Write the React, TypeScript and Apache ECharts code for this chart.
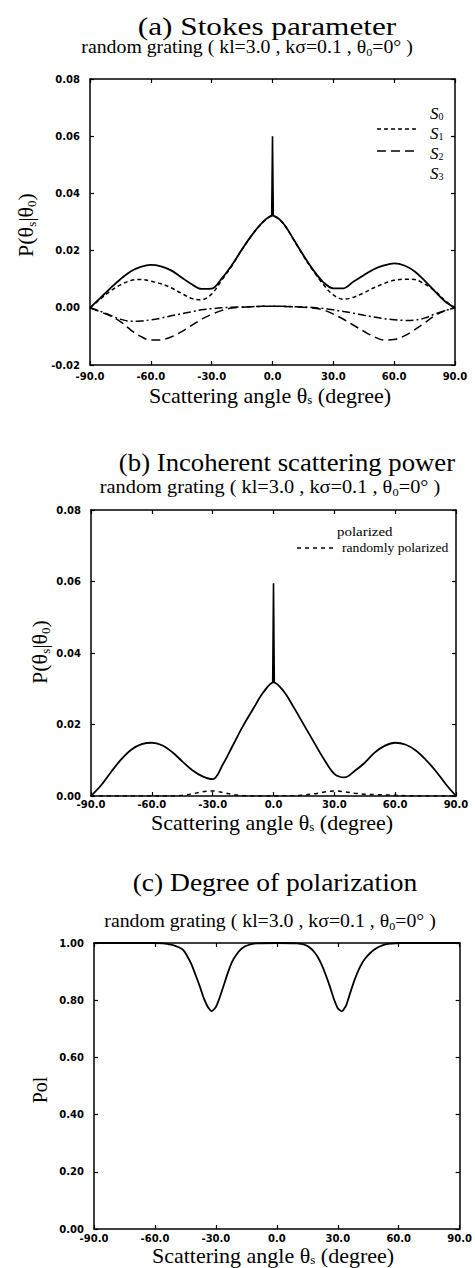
import React, { useEffect, useRef } from "react";
import * as echarts from "echarts";

// ---------- data ----------
const anglesA = [-90, -85, -80, -75, -70, -65, -60, -55, -50, -45, -40, -35, -30, -25, -20, -15, -10, -5, 0, 5, 10, 15, 20, 25, 30, 35, 40, 45, 50, 55, 60, 65, 70, 75, 80, 85, 90];

const s0 = [0, 0.0034, 0.0068, 0.01, 0.0127, 0.0143, 0.015, 0.0145, 0.0131, 0.0107, 0.0083, 0.0066, 0.0067, 0.0103, 0.015, 0.0205, 0.0256, 0.0298, 0.0322, 0.0298, 0.0244, 0.0186, 0.0133, 0.009, 0.0068, 0.0068, 0.0092, 0.0114, 0.0135, 0.0148, 0.0155, 0.0148, 0.0128, 0.0095, 0.0058, 0.0023, 0];
const s1 = [0, 0.003, 0.0058, 0.008, 0.0095, 0.0099, 0.0093, 0.0084, 0.007, 0.0051, 0.0033, 0.0028, 0.0048, 0.0097, 0.0147, 0.0204, 0.0255, 0.0297, 0.032, 0.0297, 0.0243, 0.0184, 0.013, 0.0082, 0.0045, 0.003, 0.0037, 0.0052, 0.007, 0.0085, 0.0096, 0.01, 0.0099, 0.0083, 0.006, 0.0026, 0];
const s2 = [0, -0.0014, -0.0028, -0.0048, -0.0077, -0.01, -0.0113, -0.0112, -0.0102, -0.0084, -0.0062, -0.004, -0.0023, -0.0009, -0.0001, 0.0002, 0.0004, 0.0005, 0.0005, 0.0005, 0.0004, 0.0002, -0.0001, -0.0007, -0.0022, -0.004, -0.0061, -0.0082, -0.0101, -0.0113, -0.0111, -0.0098, -0.0077, -0.0053, -0.0028, -0.001, 0];
const s3 = [0, -0.0012, -0.0026, -0.004, -0.0047, -0.0046, -0.0042, -0.0036, -0.0028, -0.0021, -0.0014, -0.0007, -0.0003, 0, 0.0002, 0.0003, 0.0004, 0.0005, 0.0005, 0.0005, 0.0004, 0.0003, 0.0001, -0.0002, -0.0007, -0.0013, -0.0019, -0.0026, -0.0032, -0.0038, -0.0042, -0.0044, -0.0043, -0.0036, -0.0022, -0.001, 0];

// narrow specular spike at 0 degrees
const spikeAngles = [-0.4, 0, 0.4];
const spikeA = [0.0322, 0.06, 0.0322];
const spikeB = [0.0318, 0.0595, 0.0318];

const polarized = [0, 0.003, 0.0068, 0.0103, 0.013, 0.0145, 0.0149, 0.0142, 0.0123, 0.0097, 0.0072, 0.0055, 0.0047, 0.0088, 0.0142, 0.0196, 0.0244, 0.029, 0.0318, 0.0293, 0.0248, 0.0199, 0.015, 0.0102, 0.0062, 0.0052, 0.007, 0.0093, 0.0122, 0.0141, 0.0149, 0.0144, 0.0128, 0.0102, 0.007, 0.0033, 0];
const randomPol = [0, 0, 0, 0, 0, 0, 0, 0, 0, 0.0002, 0.0006, 0.0012, 0.0014, 0.001, 0.0004, 0.0001, 0, 0, 0, 0.0001, 0.0001, 0.0003, 0.0006, 0.0011, 0.0014, 0.0012, 0.0008, 0.0005, 0.0004, 0.0003, 0.0002, 0.0001, 0, 0, 0, 0, 0];

const anglesC = [-90, -80, -70, -60, -56, -54, -52, -50, -48, -46, -44, -42, -40, -38, -36, -34, -32, -30, -28, -26, -24, -22, -20, -18, -16, -14, -12, -10, 0, 10, 12, 14, 16, 18, 20, 22, 24, 26, 28, 30, 32, 34, 36, 38, 40, 42, 44, 46, 48, 50, 52, 54, 56, 60, 70, 80, 90];
const pol = [1, 1, 1, 1, 0.999, 0.997, 0.994, 0.99, 0.984, 0.975, 0.953, 0.925, 0.888, 0.85, 0.808, 0.777, 0.762, 0.776, 0.812, 0.855, 0.898, 0.935, 0.958, 0.976, 0.987, 0.993, 0.997, 0.999, 1, 0.999, 0.997, 0.993, 0.985, 0.972, 0.953, 0.925, 0.89, 0.85, 0.806, 0.772, 0.761, 0.78, 0.823, 0.866, 0.902, 0.93, 0.95, 0.965, 0.977, 0.986, 0.992, 0.996, 0.998, 1, 1, 1, 1];

// axis ranges / ticks
const xRange = [-90, 90];
const xStep = 30;
const yRangeA = [-0.02, 0.08];
const yRangeB = [0, 0.08];
const yStepAB = 0.02;
const yRangeC = [0, 1];
const yStepC = 0.2;

const titles = ["(a) Stokes parameter", "(b) Incoherent scattering power", "(c) Degree of polarization"];
const legendA = ["0", "1", "2", "3"];
const legendB = ["polarized", "randomly polarized"];

// ---------- styling ----------
const SERIF = '"Liberation Serif", "Times New Roman", serif';
const SANS = '"DejaVu Sans", sans-serif';

const grids = [
  { left: 90, top: 79, width: 365, height: 286 },
  { left: 91, top: 510, width: 365, height: 286 },
  { left: 94, top: 943, width: 366, height: 286 },
];
const xLabelMargins = [6, 3, 4];

function zip(xs: number[], ys: number[]) {
  return xs.map((x, i) => [x, ys[i]]);
}

function xAxes(g: number) {
  const base = {
    type: "value",
    gridIndex: g,
    min: xRange[0],
    max: xRange[1],
    interval: xStep,
    splitLine: { show: false },
    axisLine: { show: true, onZero: false, lineStyle: { color: "#000", width: 1.5 } },
    axisTick: { show: true, inside: true, length: 4, lineStyle: { color: "#000", width: 1.2 } },
  };
  return [
    {
      ...base,
      position: "bottom",
      axisLabel: {
        show: true,
        showMinLabel: true,
        showMaxLabel: true,
        formatter: (v: number) => v.toFixed(1),
        fontFamily: SANS,
        fontWeight: "bold",
        fontSize: 10,
        color: "#000",
        margin: xLabelMargins[g],
      },
    },
    { ...base, position: "top", axisLabel: { show: false } },
  ];
}

function yAxes(g: number, range: number[], step: number) {
  const base = {
    type: "value",
    gridIndex: g,
    min: range[0],
    max: range[1],
    interval: step,
    splitLine: { show: false },
    axisLine: { show: true, onZero: false, lineStyle: { color: "#000", width: 1.5 } },
    axisTick: { show: true, inside: true, length: 4, lineStyle: { color: "#000", width: 1.2 } },
  };
  return [
    {
      ...base,
      position: "left",
      axisLabel: {
        show: true,
        showMinLabel: true,
        showMaxLabel: true,
        formatter: (v: number) => v.toFixed(2),
        fontFamily: SANS,
        fontWeight: "bold",
        fontSize: 10,
        color: "#000",
        margin: 10,
      },
    },
    { ...base, position: "right", axisLabel: { show: false } },
  ];
}

function line(name: string, data: number[][], g: number, type: any, width: number, smooth: number | boolean = 0.35) {
  return {
    name,
    type: "line",
    xAxisIndex: g * 2,
    yAxisIndex: g * 2,
    data,
    showSymbol: false,
    smooth,
    lineStyle: { color: "#000", width, type },
    z: 3,
  };
}

const subRich = (size: number, sub: number, italic = false, lh = size + 4) => ({
  m: { fontFamily: SERIF, fontSize: size, fill: "#000", fontStyle: italic ? "italic" : "normal", lineHeight: lh },
  s: { fontFamily: SERIF, fontSize: sub, fill: "#000", verticalAlign: "bottom", lineHeight: sub },
});

function text(x: number, y: number, t: string, size: number, opts: any = {}) {
  return {
    type: "text",
    x,
    y,
    scaleX: opts.scaleX ?? 1,
    scaleY: opts.scaleY ?? 1,
    rotation: opts.rotation ?? 0,
    z: 10,
    style: {
      text: t,
      font: `${opts.italic ? "italic " : ""}${size}px ${SERIF}`,
      fontFamily: SERIF,
      fontSize: size,
      fill: "#000",
      textAlign: opts.align ?? "center",
      align: opts.align ?? "center",
      textVerticalAlign: "middle",
      verticalAlign: "middle",
      rich: opts.rich,
    },
  };
}

function hline(x1: number, x2: number, y: number, dash: any) {
  return {
    type: "line",
    z: 10,
    shape: { x1, y1: y, x2, y2: y },
    style: { stroke: "#000", lineWidth: 1.5, lineDash: dash },
  };
}

const DASH_S1 = [4, 3];
const DASH_S2 = [9, 5];
const DASH_S3 = [8, 3, 2, 3];
const DASH_RP = [4, 4];

function buildOption() {
  const graphic: any[] = [];
  // titles
  graphic.push(text(267, 27, titles[0], 25, { scaleX: 1.25 }));
  graphic.push(text(287, 463, titles[1], 25, { scaleX: 1.07 }));
  graphic.push(text(275, 883, titles[2], 25, { scaleX: 1.1 }));
  // subtitles
  const subT = "{m|random grating ( kl=3.0 , kσ=0.1 , θ}{s|0}{m|=0° )}";
  graphic.push(text(247, 47, subT, 18, { scaleX: 1.1, rich: subRich(18, 11) }));
  graphic.push(text(270, 487, subT, 18, { scaleX: 1.13, rich: subRich(18, 11) }));
  graphic.push(text(270, 921, subT, 18, { scaleX: 1.1, rich: subRich(18, 11) }));
  // x axis titles
  const xT = "{m|Scattering angle θ}{s|s}{m| (degree)}";
  graphic.push(text(270, 395, xT, 22, { rich: subRich(22, 13, false, 22) }));
  graphic.push(text(272, 822, xT, 22, { rich: subRich(22, 13, false, 22) }));
  graphic.push(text(273, 1255, xT, 22, { rich: subRich(22, 13, false, 22) }));
  // y axis titles
  const yT = "{m|P(θ}{s|s}{m||θ}{s|0}{m|)}";
  graphic.push(text(25, 225, yT, 22, { rotation: Math.PI / 2, rich: subRich(22, 13) }));
  graphic.push(text(39, 652, yT, 22, { rotation: Math.PI / 2, rich: subRich(22, 13) }));
  graphic.push(text(40, 1090, "Pol", 20, { rotation: Math.PI / 2 }));
  // legend (a)
  const ly = [113, 133, 153, 173];
  legendA.forEach((k, i) => {
    graphic.push(
      text(430, ly[i], `{m|S}{s|${k}}`, 17, { align: "left", rich: subRich(17, 10, true, 16) })
    );
  });
  graphic.push(hline(377, 417, 129, DASH_S1));
  graphic.push(hline(377, 417, 151, DASH_S2));
  // legend (b)
  graphic.push(text(337, 532, legendB[0], 13, { align: "left", scaleX: 1.15 }));
  graphic.push(text(342, 548, legendB[1], 13, { align: "left", scaleX: 1.05 }));
  graphic.push(hline(297, 334, 548, DASH_RP));

  return {
    animation: false,
    backgroundColor: "#fff",
    grid: grids,
    xAxis: [...xAxes(0), ...xAxes(1), ...xAxes(2)],
    yAxis: [
      ...yAxes(0, yRangeA, yStepAB),
      ...yAxes(1, yRangeB, yStepAB),
      ...yAxes(2, yRangeC, yStepC),
    ],
    series: [
      line("S0", zip(anglesA, s0), 0, "solid", 1.8),
      line("S0 spike", zip(spikeAngles, spikeA), 0, "solid", 1.6, false),
      line("S1", zip(anglesA, s1), 0, DASH_S1, 1.5),
      line("S2", zip(anglesA, s2), 0, DASH_S2, 1.5),
      line("S3", zip(anglesA, s3), 0, DASH_S3, 1.5),
      line("polarized", zip(anglesA, polarized), 1, "solid", 1.8),
      line("polarized spike", zip(spikeAngles, spikeB), 1, "solid", 1.6, false),
      line("randomly polarized", zip(anglesA, randomPol), 1, DASH_RP, 1.5),
      line("Pol", zip(anglesC, pol), 2, "solid", 1.8, 0.2),
    ],
    graphic,
  };
}

export default function App() {
  const ref = useRef<HTMLDivElement>(null);
  useEffect(() => {
    if (!ref.current) return;
    const chart = echarts.init(ref.current, null, { renderer: "svg" });
    chart.setOption(buildOption() as any);
    return () => chart.dispose();
  }, []);
  return (
    <div
      ref={ref}
      style={{ position: "absolute", left: 0, top: 0, width: 475, height: 1268, background: "#fff" }}
    />
  );
}
